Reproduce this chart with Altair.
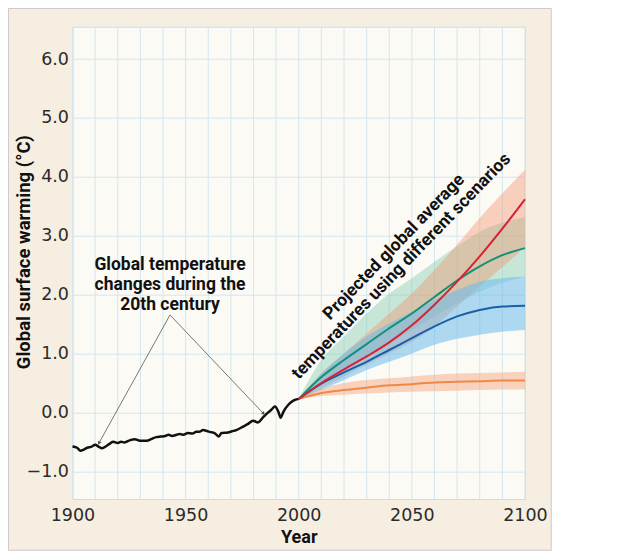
import altair as alt
import pandas as pd

# ---------------- data ----------------
hist_year = [1900, 1902, 1903.5, 1905, 1906.5, 1908.5, 1910, 1911.5, 1913, 1915, 1916.5, 1918,
             1920, 1921.5, 1923, 1925.5, 1927.5, 1929.8, 1932.8, 1935, 1937, 1939, 1941, 1942.5,
             1944, 1946, 1947.5, 1949, 1951, 1953, 1954.7, 1956, 1957.7, 1959, 1960.6, 1962.8,
             1964.7, 1965.8, 1968.7, 1970.5, 1972.4, 1975.4, 1977.6, 1979.8, 1982, 1984.3,
             1986.5, 1988, 1989.5, 1991, 1992, 1993.2, 1995.4, 1997.6, 2000]
hist_temp = [-0.58, -0.60, -0.65, -0.63, -0.60, -0.58, -0.55, -0.58, -0.61, -0.57, -0.53, -0.50,
             -0.52, -0.50, -0.51, -0.47, -0.455, -0.48, -0.48, -0.45, -0.42, -0.41, -0.40, -0.38,
             -0.40, -0.38, -0.365, -0.38, -0.35, -0.36, -0.33, -0.33, -0.30, -0.31, -0.33, -0.35,
             -0.41, -0.35, -0.34, -0.32, -0.30, -0.24, -0.195, -0.14, -0.17, -0.08,
             0.0, 0.05, 0.10, 0.01, -0.09, 0.01, 0.13, 0.20, 0.23]

proj_year = [2000, 2010, 2020, 2030, 2040, 2050, 2060, 2070, 2080, 2090, 2100]

a2_mean = [0.23, 0.50, 0.73, 0.95, 1.19, 1.48, 1.83, 2.22, 2.65, 3.12, 3.62]
a2_low = [0.23, 0.41, 0.61, 0.81, 1.00, 1.20, 1.46, 1.80, 2.14, 2.47, 2.80]
a2_high = [0.23, 0.66, 1.00, 1.34, 1.68, 2.02, 2.42, 2.85, 3.30, 3.72, 4.12]

a1b_mean = [0.23, 0.60, 0.89, 1.16, 1.43, 1.68, 1.96, 2.24, 2.48, 2.67, 2.79]
a1b_low = [0.23, 0.48, 0.72, 0.95, 1.17, 1.40, 1.63, 1.85, 2.05, 2.20, 2.31]
a1b_high = [0.23, 0.89, 1.29, 1.68, 2.02, 2.28, 2.56, 2.82, 3.07, 3.22, 3.32]

b1_mean = [0.23, 0.49, 0.68, 0.86, 1.06, 1.26, 1.46, 1.63, 1.74, 1.80, 1.81]
b1_low = [0.23, 0.38, 0.55, 0.72, 0.86, 1.00, 1.15, 1.25, 1.32, 1.37, 1.40]
b1_high = [0.23, 0.66, 1.00, 1.29, 1.51, 1.71, 1.91, 2.08, 2.22, 2.28, 2.31]

cc_mean = [0.23, 0.33, 0.38, 0.42, 0.46, 0.48, 0.51, 0.52, 0.53, 0.54, 0.54]
cc_low = [0.23, 0.28, 0.30, 0.32, 0.34, 0.35, 0.36, 0.37, 0.38, 0.39, 0.39]
cc_high = [0.23, 0.40, 0.50, 0.55, 0.58, 0.61, 0.64, 0.66, 0.67, 0.68, 0.69]

x_grid = list(range(1900, 2101, 10))
x_labels = [1900, 1950, 2000, 2050, 2100]
y_ticks = [-1, 0, 1, 2, 3, 4, 5, 6]

note1_lines = ["Global temperature", "changes during the", "20th century"]
note1_year = [1943.1, 1943.1, 1943.1]
note1_val = [2.42, 2.08, 1.74]

note2_lines = ["Projected global average", "temperatures using different scenarios"]
note2_year = [2043.7, 2047.0]
note2_val = [2.749, 2.42]

arrow_from = (1943.1, 1.655)
arrow_left_to = (1911.8, -0.513)
arrow_right_to = (1984.3, -0.014)

# ---------------- styling ----------------
BOLD = "Roboto, DejaVu Sans Condensed, sans-serif"
LABEL_FONT = "DejaVu Sans, sans-serif"
W, H = 452.5, 472.3

xs = alt.Scale(domain=[1900, 2100], nice=False, zero=False)
ys = alt.Scale(domain=[-1.47, 6.55], nice=False, zero=False)

grid_v = alt.Chart(pd.DataFrame({"g": x_grid})).mark_rule(
    color="#d3e6ee", strokeWidth=1
).encode(x=alt.X("g:Q", scale=xs))

hist = pd.DataFrame({"year": hist_year, "temp": hist_temp})

base_hist = alt.Chart(hist).mark_line(
    color="#111111", strokeWidth=2.5, interpolate="monotone"
).encode(
    x=alt.X("year:Q", scale=xs, axis=alt.Axis(
        values=x_labels, format="d",
        grid=False, ticks=False, domain=False,
        labelFont=LABEL_FONT, labelFontSize=17.5, labelColor="#2b2b2b",
        labelPadding=8, labelFlush=False, labelOverlap=False,
        title="Year", titleFont=BOLD, titleFontWeight="bold", titleFontSize=18,
        titleColor="#111111", titleY=44, titleBaseline="alphabetic")),
    y=alt.Y("temp:Q", scale=ys, axis=alt.Axis(
        values=y_ticks, format=".1f",
        grid=True, gridColor="#d3e6ee", gridWidth=1, ticks=False, domain=False,
        labelFont=LABEL_FONT, labelFontSize=17.5, labelColor="#2b2b2b",
        labelPadding=4,
        title="Global surface warming (°C)", titleFont=BOLD, titleFontWeight="bold",
        titleFontSize=18.5, titleColor="#111111", titleAngle=270,
        titleX=-42.5, titleY=225, titleBaseline="alphabetic", titleAlign="center")),
)


def scen(mean, low, high):
    return pd.DataFrame({"year": proj_year, "mean": mean, "low": low, "high": high})


def band(df, color, opacity):
    return alt.Chart(df).mark_area(
        color=color, opacity=opacity, interpolate="monotone"
    ).encode(x=alt.X("year:Q", scale=xs), y=alt.Y("low:Q", scale=ys), y2="high:Q")


def mline(df, color):
    return alt.Chart(df).mark_line(
        color=color, strokeWidth=2.0, interpolate="monotone"
    ).encode(x=alt.X("year:Q", scale=xs), y=alt.Y("mean:Q", scale=ys))


a2 = scen(a2_mean, a2_low, a2_high)
a1b = scen(a1b_mean, a1b_low, a1b_high)
b1 = scen(b1_mean, b1_low, b1_high)
cc = scen(cc_mean, cc_low, cc_high)

layers = [
    band(a1b, "#7fcaae", 0.42),
    band(a2, "#f0946e", 0.42),
    band(b1, "#6cbcec", 0.55),
    band(cc, "#f5a27a", 0.45),
    mline(cc, "#f08848"),
    mline(b1, "#1a5fa6"),
    mline(a1b, "#139078"),
    mline(a2, "#d62232"),
]

arrows = pd.DataFrame({
    "x1": [arrow_from[0], arrow_from[0]],
    "y1": [arrow_from[1], arrow_from[1]],
    "x2": [arrow_left_to[0], arrow_right_to[0]],
    "y2": [arrow_left_to[1], arrow_right_to[1]],
})
arrow_lines = alt.Chart(arrows).mark_rule(color="#555555", strokeWidth=0.8).encode(
    x=alt.X("x1:Q", scale=xs), y=alt.Y("y1:Q", scale=ys), x2="x2:Q", y2="y2:Q")

head_l = alt.Chart(pd.DataFrame({"x": [arrow_left_to[0]], "y": [arrow_left_to[1]]})).mark_point(
    shape="triangle", filled=True, size=16, color="#555555", angle=209, opacity=1
).encode(x=alt.X("x:Q", scale=xs), y=alt.Y("y:Q", scale=ys))
head_r = alt.Chart(pd.DataFrame({"x": [arrow_right_to[0]], "y": [arrow_right_to[1]]})).mark_point(
    shape="triangle", filled=True, size=16, color="#555555", angle=136, opacity=1
).encode(x=alt.X("x:Q", scale=xs), y=alt.Y("y:Q", scale=ys))

note1 = alt.Chart(pd.DataFrame({"t": note1_lines, "x": note1_year, "y": note1_val})).mark_text(
    font=BOLD, fontWeight="bold", fontSize=17.5, color="#111111",
    align="center", baseline="alphabetic"
).encode(x=alt.X("x:Q", scale=xs), y=alt.Y("y:Q", scale=ys), text="t:N")

note2 = alt.Chart(pd.DataFrame({"t": note2_lines, "x": note2_year, "y": note2_val})).mark_text(
    font=BOLD, fontWeight="bold", fontSize=17.5, color="#111111",
    align="center", baseline="alphabetic", angle=314
).encode(x=alt.X("x:Q", scale=xs), y=alt.Y("y:Q", scale=ys), text="t:N")

frame = alt.Chart(pd.DataFrame({"k": [0]})).mark_rect(
    fillOpacity=0, stroke="#cccccc", strokeWidth=1
).encode(
    x=alt.value(-64.0), x2=alt.value(W + 26.2),
    y=alt.value(-18.2), y2=alt.value(H + 51.2))

chart = alt.layer(
    frame, grid_v, base_hist, *layers, arrow_lines, head_l, head_r, note1, note2
).properties(
    width=W, height=H,
    background="#f6efe1",
    padding={"left": 64.5, "top": 18.7, "right": 26.7, "bottom": 51.7},
    autosize=alt.AutoSizeParams(type="none"),
).configure_view(
    fill="#fcfaf4", stroke="#c8dde5", strokeWidth=1
)

chart.save("out.html", embed_options={"renderer": "svg", "actions": False})
